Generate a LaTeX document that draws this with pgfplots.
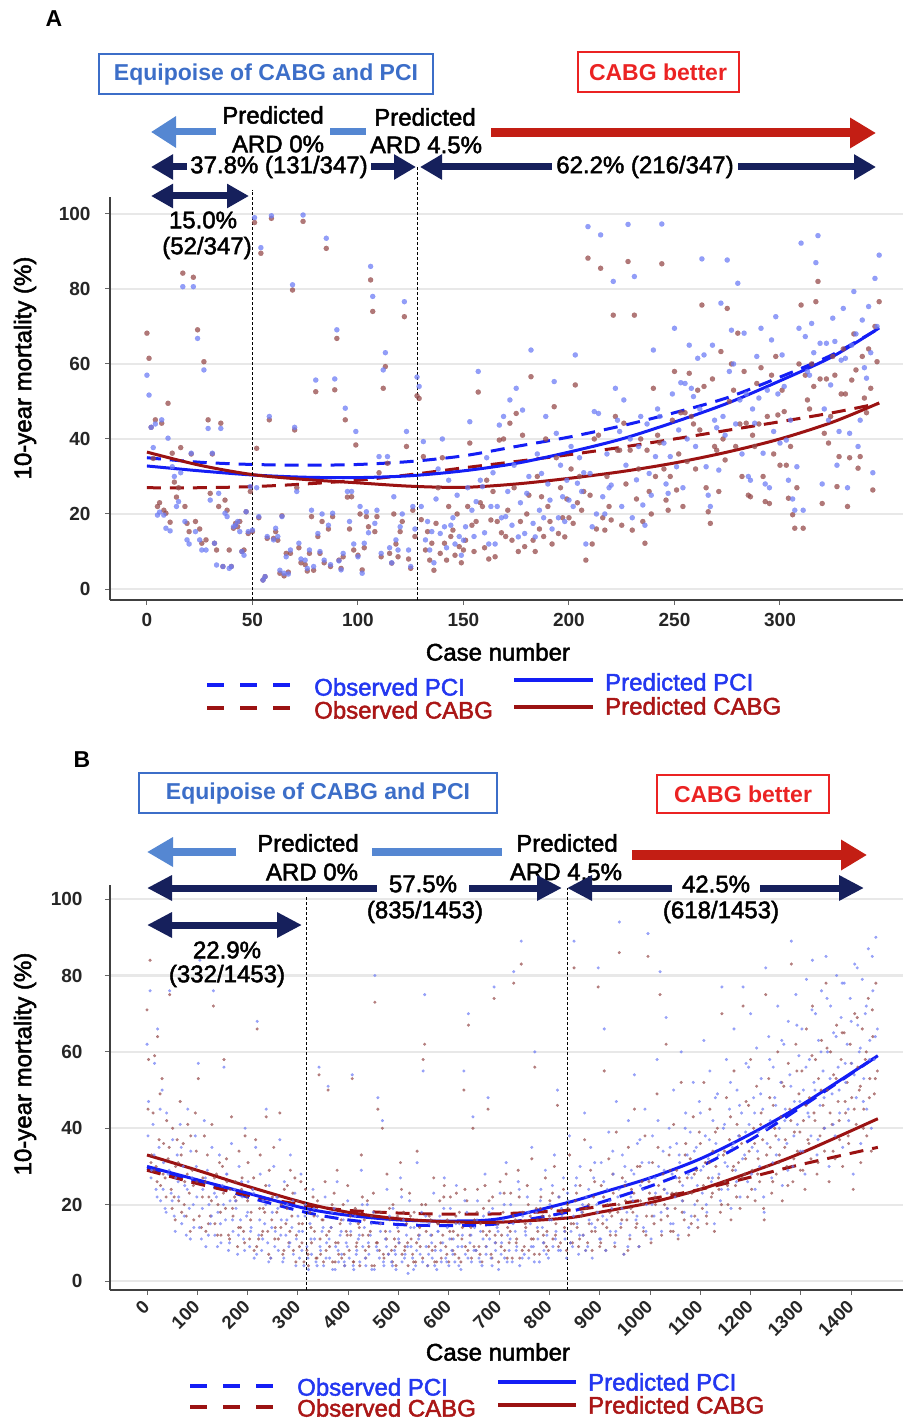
\documentclass[border=0pt]{standalone}
\usepackage{fontspec}
\setmainfont{Liberation Sans}
\newfontfamily\medfont[FakeBold=2]{Liberation Sans}
\usepackage{pgfplots}
\usepackage{pgfplotstable}
\pgfplotsset{compat=1.18}
\usetikzlibrary{arrows.meta}

\definecolor{ptblue}{RGB}{110,125,245}
\definecolor{ptred}{RGB}{150,75,75}
\definecolor{lnblue}{RGB}{20,30,245}
\definecolor{lnred}{RGB}{155,18,18}
\definecolor{navy}{RGB}{22,32,92}
\definecolor{lblue}{RGB}{85,135,210}
\definecolor{arred}{RGB}{195,30,20}
\definecolor{boxblue}{RGB}{60,110,200}
\definecolor{boxred}{RGB}{235,35,35}
\definecolor{legblue}{RGB}{35,55,240}
\definecolor{legred}{RGB}{170,22,22}

\newcommand{\fs}[1]{\fontsize{#1}{#1}\selectfont}

\pgfplotstableread{
x p c
0 57 68.2
1 51.7 61.5
2 43.1 43.1
3 37.7 34.8
4 44.0 45.1
5 19.7 22
6 20.5 23
7 45.1 44.2
8 19.7 21
9 16.2 20.2
10 40.2 49.5
11 15.5 17.8
12 32.6 36.2
13 30 28.5
14 22 24.5
15 23.3 27
16 31 37.7
17 80.6 84.2
18 18 22
19 13.1 17.5
20 12 15.3
21 36.2 36
22 80.6 83.1
23 15.3 18
24 66.8 69.1
25 13.1 16
26 10.4 12.2
27 58.4 60.6
28 10.4 13.1
29 42.8 45.1
30 23.7 25.5
31 36.2 36
32 12.2 12.2
33 6.4 10.4
34 25.5 22
35 42.8 44.2
36 6 6
37 20.2 23.7
38 19.3 21
39 5.5 10.4
40 6 6
41 16.6 16.2
42 17 17.5
43 18 16.6
44 15.3 18
45 10 10
46 9 10.4
47 20.6 20.6
48 15.3 14.8
49 27.3 26
50 15.7 15.3
51 99 97.7
52 27 37.5
53 19.3 19
54 91 89.5
55 2.4 2.4
56 3.3 3.3
57 14 13.5
58 46 45.1
59 99.5 98.8
60 13.1 13.5
61 16.2 15.3
62 14 13
63 5 4.2
64 19.3 19.5
65 4.2 3.5
66 8.6 9.5
67 4 4.5
68 10.4 9.5
69 81.1 79.7
70 43.1 42.4
71 26 27
72 12.2 11
73 8 7
74 99.7 98
75 7.7 6.5
76 5.5 4.8
77 10.4 9.5
78 21 19.3
79 6 5
80 55.7 52.6
81 14.8 14
82 10 9.5
83 20 18
84 7.7 7
85 93.5 90.8
86 17 16
87 6.5 6
88 20.2 19.3
89 56 53.1
90 69.1 66.8
91 7.5 7.7
92 5.1 5.5
93 9.5 8.6
94 48.2 45.1
95 26 24.5
96 18 16
97 26 24.6
98 12 10.4
99 42 38.4
100 8.6 9
101 22 20
102 4.2 5.1
103 12.2 11
104 20.6 19.3
105 15 16.6
106 86 82.4
107 78 74
108 17.5 15.3
109 21 19.3
110 35.3 31
111 9.5 8.6
112 58.4 53.5
113 63 59.3
114 35.3 33.5
115 11 9.5
116 7 6.9
117 24.6 20
118 13.1 12
119 10.4 8.6
120 16.6 15.3
121 20 18
122 76.6 72.6
123 42 38
124 10.4 8
125 6 5.5
126 22 21
127 16 14
128 56.5 51.5
129 54 50.8
130 22 18.5
131 39.3 35.3
132 13.1 10.4
133 18 15.3
134 10.4 7.7
135 15.3 12.2
136 7 5
137 24 17.5
138 32 27
139 14.8 9.5
140 40 35
141 16.6 12.2
142 11 7.7
143 29 22
144 17 14
145 19 15.7
146 12 9
147 25 20
148 14 11.3
149 9 7
150 13 10.4
151 16.6 13
152 27 22
153 44.6 38.9
154 21 17
155 14 10
156 23.3 18
157 58 52.5
158 29 23
159 27.3 22
160 15 11
161 35 29
162 12 8
163 22 18.4
164 31 26
165 12 8.6
166 22 18
167 43.7 39.7
168 19 15
169 46 40
170 19.3 14
171 26 21
172 50.4 44.2
173 17 13
174 33 27
175 53.5 46.8
176 13.9 10
177 23 18
178 47.7 41
179 14.8 11.3
180 25.5 20
181 30 25
182 63.7 56.6
183 17.5 13
184 13.9 10
185 36 30
186 21 16
187 30.8 24.6
188 19 14
189 46 40
190 28 22
191 23.7 18
192 16 12
193 55.3 48.6
194 41.5 35
195 19 14.8
196 33 27
197 24.6 19
198 18 13.9
199 29 24
200 23.7 19
201 38 32
202 22 17.5
203 62.4 54.4
204 28.2 23
205 35 30
206 26 21
207 31 26
208 12 7.7
209 96.6 88.2
210 30.8 25
211 16.6 12
212 47.3 40
213 20 16
214 46.8 41
215 94.4 85.5
216 24.6 19
217 20 15.7
218 36 30
219 27 22
220 27.7 18.4
221 82 73
222 53.5 46
223 45 37
224 42 37
225 22 17
226 50.4 44.2
227 33 28
228 97.2 87.3
229 40 37
230 19 15.7
231 83.3 73
232 29.1 24
233 38 32
234 46 40
235 22.4 18
236 17 12.2
237 44 37
238 30.8 26
239 25 20
240 63.7 53.5
241 35.3 30
242 48 41
243 46 39
244 97.3 86.7
245 38.9 32
246 28 23.7
247 25.5 21
248 35.3 30
249 52 45
250 69.5 58
251 32.6 26.4
252 42.4 36
253 55 47
254 27 22
255 54.8 47
256 40 34
257 65 57.5
258 53.5 46
259 51.3 44
260 38 32
261 61.5 53
262 48 42.4
263 88 75.7
264 62.4 54
265 32.6 27
266 25 20.6
267 22 17.5
268 65 56
269 45 38
270 43 37
271 31.7 26
272 76.2 63.3
273 46 40
274 41 34.4
275 87.7 74.8
276 58 50
277 69 60
278 60 53
279 44 38
280 81.5 68.2
281 50.4 44
282 36 30
283 68.2 58
284 52 44.2
285 30 25
286 29 24.6
287 48 41
288 44.2 38
289 62 54.8
290 50.9 44
291 69.5 59
292 36.2 30
293 28 23.3
294 53 46
295 27 22.8
296 66.4 57
297 42 36
298 72.6 62
299 52 46.4
300 38.9 33
301 62.4 53
302 54 47.3
303 39.7 33
304 29 24.2
305 45 38
306 24 19.8
307 21 16.2
308 32.6 27
309 69.5 60
310 92.2 75.7
311 21 16.2
312 67.3 57
313 58 50.4
314 57 48
315 70.8 60
316 63 54
317 87 76.6
318 94.2 82
319 65.5 56
320 28 22.8
321 48 41.5
322 65.5 56
323 45 38.9
324 54.4 46
325 72.2 62
326 66 57
327 33 27.3
328 42 35.3
329 61 52
330 74.8 64
331 61.5 52
332 27 22
333 41.5 35
334 65 55.7
335 79.3 68
336 68 58.4
337 38 32.2
338 45 35.3
339 71.7 62
340 59 50.9
341 56.2 47
342 75.3 64
343 63 53.5
344 31 26.4
345 82.8 70
346 70 60.6
347 89 76.6
}\dataA

\pgfplotstableread{
x p c
0 62 71
3 47 58
6 76 84
9 29 33
12 41 44
15 57 59
18 24 30
21 66 64
24 35 37
27 21 25
30 50 53
33 31 36
36 19 27
39 44 42
42 28 32
45 76 75
48 23 24
51 37 40
54 17 22
57 27 30
60 33 37
63 22 21
66 41 47
69 15 18
72 30 36
75 25 26
78 12 17
81 45 41
84 19 23
87 34 38
90 27 29
93 14 16
96 38 44
99 22 26
102 57 53
105 84 79
108 11 14
111 24 27
114 42 38
117 9 13
120 29 33
123 20 22
126 15 17
129 35 41
132 76 72
135 12 15
138 22 28
141 18 20
144 33 31
147 10 12
150 25 30
153 56 58
156 16 19
159 28 26
162 8 12
165 21 24
168 36 43
171 13 17
174 24 22
177 19 21
180 7 9
183 30 34
186 16 14
189 22 27
192 11 13
195 40 38
198 17 22
201 26 31
204 9 11
207 14 18
210 24 24
213 6 8
216 35 37
219 68 66
222 12 11
225 28 33
228 8 12
231 21 19
234 15 18
237 45 43
240 10 13
243 25 29
246 6 6
249 18 22
252 30 35
255 13 14
258 22 18
261 8 11
264 37 44
267 16 20
270 5 7
273 26 24
276 12 15
279 20 25
282 9 10
285 33 29
288 14 17
291 7 8
294 23 27
297 11 12
300 17 21
303 6 9
306 28 26
309 13 15
312 4 5
315 20 24
318 9 8
321 3 4
324 15 18
327 7 10
330 24 22
333 11 13
336 5 6
339 17 21
342 56 54
345 8 7
348 13 16
351 4 5
354 22 26
357 10 12
360 51 50
363 6 9
366 14 14
369 3 5
372 19 23
375 9 10
378 26 29
381 5 7
384 12 15
387 7 6
390 16 20
393 4 4
396 10 13
399 21 25
402 6 8
405 13 12
408 54 53
411 3 5
414 17 19
417 8 10
420 11 15
423 5 4
426 29 33
429 9 12
432 14 16
435 4 6
438 20 21
441 7 9
444 12 13
447 3 4
450 18 23
453 80 73
456 9 10
459 48 45
462 6 8
465 15 18
468 42 40
471 4 6
474 11 13
477 24 28
480 7 7
483 13 16
486 5 8
489 19 20
492 8 11
495 3 4
498 14 17
501 10 10
504 27 31
507 5 7
510 16 18
513 7 9
516 12 15
519 2 4
522 21 23
525 9 11
528 6 7
531 14 18
534 4 5
537 31 34
540 11 12
543 7 9
546 18 20
549 55 58
552 75 62
555 9 13
558 4 4
561 15 17
564 12 16
567 6 8
570 23 27
573 8 9
576 3 5
579 13 15
582 17 21
585 5 6
588 10 12
591 27 25
594 6 9
597 14 16
600 4 5
603 19 22
606 8 11
609 11 13
612 5 7
615 25 23
618 9 12
621 15 18
624 3 5
627 12 14
630 55 50
633 7 9
636 18 21
639 70 67
642 10 12
645 5 6
648 43 40
651 14 16
654 8 8
657 21 24
660 6 9
663 13 15
666 4 5
669 17 19
672 28 25
675 9 12
678 48 45
681 11 13
684 6 7
687 19 22
690 77 74
693 8 10
696 14 15
699 3 5
702 23 26
705 10 12
708 16 18
711 6 8
714 31 28
717 12 14
720 8 10
723 20 23
726 5 6
729 81 78
732 13 16
735 9 11
738 26 29
741 4 6
744 89 83
747 17 18
750 7 9
753 12 14
756 22 25
759 6 8
762 15 17
765 35 32
768 9 11
771 60 56
774 18 19
777 11 13
780 5 7
783 24 22
786 14 17
789 8 10
792 29 27
795 12 13
798 6 8
801 20 21
804 16 19
807 9 11
810 33 30
813 13 15
816 50 46
819 22 22
822 8 10
825 17 18
828 27 24
831 11 13
834 6 8
837 21 19
840 38 33
843 13 15
846 9 10
849 89 82
852 25 21
855 15 14
858 7 9
861 30 25
864 18 17
867 12 12
870 44 37
873 22 19
876 9 10
879 16 15
882 35 29
885 6 8
888 27 22
891 14 13
894 20 18
897 82 77
900 11 9
903 31 25
906 17 15
909 66 55
912 8 8
915 24 20
918 39 32
921 13 12
924 19 17
927 28 23
930 10 9
933 47 39
936 22 18
939 94 86
942 15 14
945 33 27
948 7 7
951 26 21
954 18 16
957 42 35
960 12 11
963 29 24
966 21 18
969 54 45
972 16 14
975 36 30
978 9 9
981 25 21
984 31 26
987 14 13
990 45 38
993 20 17
996 91 85
999 27 23
1002 11 10
1005 38 31
1008 17 15
1011 23 20
1014 58 49
1017 30 25
1020 81 75
1023 13 12
1026 34 28
1029 24 20
1032 69 62
1035 19 17
1038 40 33
1041 15 13
1044 28 23
1047 50 41
1050 22 19
1053 36 29
1056 12 11
1059 31 26
1062 60 52
1065 25 21
1068 18 16
1071 44 36
1074 33 27
1077 14 12
1080 39 32
1083 27 23
1086 52 43
1089 20 17
1092 35 29
1095 16 14
1098 47 39
1101 29 24
1104 23 19
1107 63 52
1110 38 31
1113 18 15
1116 32 27
1119 55 45
1122 26 22
1125 42 34
1128 15 13
1131 36 30
1134 49 40
1137 28 24
1140 21 18
1143 77 70
1146 40 33
1149 31 26
1152 58 48
1155 24 20
1158 45 37
1161 19 16
1164 35 29
1167 66 55
1170 29 25
1173 50 41
1176 38 31
1179 22 19
1182 44 36
1185 77 72
1188 33 28
1191 57 47
1194 26 22
1197 41 34
1200 70 58
1203 35 29
1206 48 40
1209 24 21
1212 61 51
1215 39 32
1218 30 26
1221 53 44
1224 45 37
1227 18 16
1230 82 75
1233 36 30
1236 64 53
1239 42 35
1242 27 23
1245 56 46
1248 48 40
1251 33 28
1254 72 60
1257 40 33
1260 52 43
1263 25 21
1266 62 51
1269 45 37
1272 36 30
1275 68 57
1278 54 45
1281 89 83
1284 30 26
1287 47 39
1290 75 62
1293 41 34
1296 59 49
1299 34 29
1302 66 55
1305 50 42
1308 28 24
1311 79 66
1314 44 37
1317 58 48
1320 38 32
1323 84 72
1326 52 44
1329 70 58
1332 33 28
1335 63 53
1338 46 38
1341 76 63
1344 55 46
1347 40 34
1350 85 78
1353 60 50
1356 30 26
1359 72 60
1362 49 41
1365 65 54
1368 38 32
1371 80 67
1374 56 47
1377 44 37
1380 69 58
1383 35 30
1386 78 65
1389 52 44
1392 62 52
1395 42 36
1398 74 62
1401 57 48
1404 28 24
1407 83 70
1410 48 41
1413 67 56
1416 60 50
1419 36 31
1422 79 66
1425 53 45
1428 70 58
1431 45 38
1434 87 74
1437 63 53
1440 40 34
1443 76 64
1446 58 49
1449 90 78
1452 66 55
}\dataB

\pgfplotstableread{
x p c
2 38 45
8 27 31
14 33 29
20 22 26
26 45 49
32 24 28
38 18 22
44 29 35
50 21 19
56 13 16
62 26 31
68 35 33
74 17 20
80 24 28
86 11 13
92 20 25
98 30 34
104 14 17
110 19 22
116 27 26
122 12 15
128 17 21
134 23 27
140 9 12
146 15 18
152 20 23
158 28 32
164 10 11
170 16 19
176 21 26
182 12 14
188 26 24
194 8 10
200 18 21
206 13 16
212 23 27
218 7 9
224 16 19
230 11 13
236 20 25
242 5 7
248 14 16
254 9 11
260 19 22
266 12 14
272 6 8
278 16 19
284 10 13
290 21 23
296 4 5
302 13 15
308 8 10
314 17 20
320 6 7
326 11 14
332 19 17
338 4 6
344 9 11
350 14 16
356 6 8
362 11 13
368 18 20
374 3 5
380 8 10
386 13 16
392 5 7
398 9 12
404 15 17
410 4 5
416 7 9
422 12 14
428 20 22
434 6 8
440 10 12
446 15 17
452 3 4
458 8 10
464 13 15
470 5 7
476 9 11
482 17 19
488 4 5
494 7 9
500 11 13
506 22 24
512 6 8
518 9 10
524 14 17
530 3 5
536 8 10
542 12 14
548 5 6
554 17 20
560 7 9
566 10 12
572 4 5
578 13 15
584 8 10
590 19 22
596 5 7
602 11 13
608 7 8
614 15 17
620 4 6
626 9 11
632 21 24
638 6 8
644 12 14
650 8 9
656 16 18
662 5 7
668 11 13
674 7 9
680 18 21
686 4 6
692 10 12
698 13 15
704 7 9
710 20 23
716 5 6
722 11 13
728 15 17
734 8 10
740 24 22
746 6 8
752 13 15
758 18 20
764 9 11
770 5 7
776 14 16
782 21 19
788 10 12
794 7 9
800 16 17
806 25 23
812 11 12
818 8 9
824 19 18
830 13 14
836 23 20
842 10 10
848 17 15
854 27 23
860 12 11
866 20 18
872 8 8
878 24 20
884 15 13
890 31 26
896 18 16
902 11 10
908 26 22
914 16 14
920 21 18
926 34 28
932 13 12
938 24 20
944 19 16
950 30 25
956 9 8
962 22 19
968 28 23
974 17 15
980 37 30
986 24 20
992 13 12
998 31 26
1004 20 17
1010 27 22
1016 42 35
1022 18 16
1028 29 24
1034 23 19
1040 35 29
1046 15 13
1052 27 23
1058 33 27
1064 21 18
1070 40 33
1076 28 23
1082 17 15
1088 34 28
1094 25 21
1100 44 36
1106 30 25
1112 20 17
1118 37 31
1124 27 23
1130 48 39
1136 33 27
1142 24 20
1148 41 34
1154 30 25
1160 52 43
1166 36 30
1172 26 22
1178 46 38
1184 32 27
1190 39 32
1196 56 46
1202 28 24
1208 44 36
1214 34 28
1220 49 41
1226 22 19
1232 40 33
1238 58 48
1244 31 26
1250 46 38
1256 37 31
1262 63 52
1268 42 35
1274 29 25
1280 51 42
1286 38 32
1292 67 55
1298 47 39
1304 34 29
1310 56 46
1316 43 36
1322 71 59
1328 50 42
1334 37 31
1340 60 50
1346 48 40
1352 74 61
1358 53 44
1364 41 34
1370 64 53
1376 50 42
1382 78 65
1388 57 47
1394 45 38
1400 68 57
1406 54 45
1412 82 69
1418 61 51
1424 47 40
1430 72 60
1436 58 48
1442 85 71
1448 64 53
}\dataBb

\pgfplotsset{
  panel/.style={
    scale only axis, width=793pt,
    axis x line*=bottom, axis y line*=left,
    axis line style={-, black!75, line width=1.3pt},
    every outer x axis line/.append style={-},
    every outer y axis line/.append style={-},
    tick align=outside, major tick length=5pt,
    tick style={black!60, line width=1pt},
    ymajorgrids, grid style={black!9, line width=2.2pt},
    ytick={0,20,...,100},
    ticklabel style={font=\fs{19}\bfseries, text=black!85},
    /pgf/number format/assume math mode=true,
    /pgf/number format/1000 sep={},
    clip=false,
  },
  obsline/.style={line width=3pt, dash pattern=on 14pt off 9pt, smooth},
  predline/.style={line width=3pt, smooth},
  dotsA/.style={only marks, mark=*, mark size=2.6pt, opacity=#1, mark options={line width=0.1pt}},
  dotsB/.style={only marks, mark=*, mark size=1.5pt, opacity=#1, mark options={line width=0.1pt}},
}

\tikzset{
  txt/.style={font=\fs{24}\medfont, inner sep=0pt},
}

\begin{document}
\begin{tikzpicture}
\path[use as bounding box] (0pt,0pt) rectangle (903pt,-1420pt);

% ================= Panel A =================
\begin{axis}[panel,
  at={(110pt,-600pt)}, anchor=south west, height=403pt,
  xmin=-17.5, xmax=358.3, ymin=-2.93, ymax=104.5,
  xtick={0,50,...,300},
  xticklabel style={yshift=-5pt},
  yticklabel style={xshift=-11pt},
]
\addplot[ptred, dotsA=0.75] table[x=x, y=c] {\dataA};
\addplot[ptblue, dotsA=0.75] table[x=x, y=p] {\dataA};
\addplot[lnblue, obsline] coordinates {(0,35) (25,33.8) (50,33.2) (75,33) (100,33.2) (125,34) (150,35.5) (175,38) (200,40.5) (225,43.5) (250,47) (275,51) (300,56.5) (325,62.5) (347,69.5)};
\addplot[lnred, obsline] coordinates {(0,27) (25,27) (50,27.3) (75,28) (100,29) (125,30.5) (150,32.3) (175,34) (200,35.8) (225,37.8) (250,40) (275,42.3) (300,44.6) (325,47) (347,49.5)};
\addplot[lnblue, predline] coordinates {(0,32.8) (25,31.5) (50,30.4) (75,29.8) (100,29.7) (125,30.2) (150,31.5) (175,33.5) (200,36.5) (225,40) (250,44.5) (275,49.5) (300,55.5) (325,62) (347,69.6)};
\addplot[lnred, predline] coordinates {(0,36.5) (25,33) (50,30.5) (75,29.2) (100,28.3) (125,27.4) (150,27.1) (175,28) (200,29.5) (225,31.3) (250,33.6) (275,36.5) (300,40) (325,44.5) (347,49.6)};
\draw[black, line width=1pt, dash pattern=on 3pt off 2pt] (axis cs:50.2,-2.93) -- (axis cs:50.2,106.4);
\draw[black, line width=1pt, dash pattern=on 3pt off 2pt] (axis cs:128.4,-2.93) -- (axis cs:128.4,112.5);
\end{axis}

\node[font=\fs{23}\bfseries] at (54pt,-18.5pt) {A};
\draw[boxblue, line width=1.6pt] (99pt,-54pt) rectangle (433pt,-94pt);
\node[font=\fs{23}\bfseries, text=boxblue] at (266pt,-75pt) {Equipoise of CABG and PCI};
\draw[boxred, line width=1.6pt] (578pt,-52pt) rectangle (739pt,-92pt);
\node[font=\fs{23}\bfseries, text=boxred] at (658pt,-72pt) {CABG better};

\draw[lblue, line width=7pt, -{Triangle[length=25pt,width=30pt]}] (216pt,-132pt) -- (151pt,-132pt);
\draw[lblue, line width=7pt] (330pt,-132pt) -- (366pt,-132pt);
\draw[arred, line width=9pt, -{Triangle[length=26pt,width=29pt]}] (491pt,-133pt) -- (876pt,-133pt);
\node[txt] at (273pt,-115pt) {Predicted};
\node[txt] at (278pt,-144pt) {ARD 0\%};
\node[txt] at (425pt,-117pt) {Predicted};
\node[txt] at (426pt,-145pt) {ARD 4.5\%};

\draw[navy, line width=7pt, {Triangle[length=22pt,width=24pt]}-{Triangle[length=22pt,width=24pt]}] (151pt,-167pt) -- (416pt,-167pt);
\node[txt, fill=white, inner xsep=3pt, inner ysep=1pt] at (279pt,-167pt) {37.8\% (131/347)};
\draw[navy, line width=7pt, {Triangle[length=22pt,width=24pt]}-{Triangle[length=22pt,width=24pt]}] (420pt,-167pt) -- (876pt,-167pt);
\node[txt, fill=white, inner xsep=4pt, inner ysep=1pt] at (645pt,-167pt) {62.2\% (216/347)};
\draw[navy, line width=7pt, {Triangle[length=22pt,width=23pt]}-{Triangle[length=22pt,width=23pt]}] (151pt,-196pt) -- (249pt,-196pt);
\node[txt] at (203pt,-220pt) {15.0\%};
\node[txt] at (207pt,-248pt) {(52/347)};

\node[txt, font=\fs{24}\medfont, rotate=90] at (25pt,-368pt) {10-year mortality (\%)};
\node[txt, font=\fs{24}\medfont] at (498pt,-652pt) {Case number};

\draw[lnblue, line width=4pt, dash pattern=on 17pt off 16pt] (207pt,-685pt) -- (290pt,-685pt);
\node[txt, font=\fs{24}\medfont, text=legblue, anchor=west] at (314pt,-687pt) {Observed PCI};
\draw[lnblue, line width=3.5pt] (514pt,-680pt) -- (593pt,-680pt);
\node[txt, font=\fs{24}\medfont, text=legblue, anchor=west] at (605pt,-682pt) {Predicted PCI};
\draw[lnred, line width=4pt, dash pattern=on 17pt off 16pt] (207pt,-708pt) -- (290pt,-708pt);
\node[txt, font=\fs{24}\medfont, text=legred, anchor=west] at (314pt,-710pt) {Observed CABG};
\draw[lnred, line width=3.5pt] (514pt,-707pt) -- (593pt,-707pt);
\node[txt, font=\fs{24}\medfont, text=legred, anchor=west] at (605pt,-706pt) {Predicted CABG};

% ================= Panel B =================
\begin{axis}[panel,
  at={(110pt,-1290pt)}, anchor=south west, height=405pt,
  xmin=-73.6, xmax=1503, ymin=-2.36, ymax=103.7,
  xtick={0,100,...,1400},
  xticklabel style={font=\fs{18.5}\bfseries, anchor=east, inner sep=1pt, yshift=-8pt, rotate=45},
  yticklabel style={xshift=-19pt},
]
\addplot[ptred, dotsB=0.7] table[x=x, y=c] {\dataB};
\addplot[ptred, dotsB=0.7] table[x=x, y=c] {\dataBb};
\addplot[ptblue, dotsB=0.7] table[x=x, y=p] {\dataB};
\addplot[ptblue, dotsB=0.7] table[x=x, y=p] {\dataBb};
\addplot[lnblue, obsline] coordinates {(0,29.5) (100,26) (200,22) (315,18) (400,16) (500,14.8) (600,14.5) (700,15) (835,18) (900,20.5) (1000,24.8) (1100,30) (1200,37) (1300,45.5) (1453,59)};
\addplot[lnred, obsline] coordinates {(0,29) (100,25.5) (200,22.5) (315,19.8) (400,18.5) (500,17.8) (600,17.5) (700,17.6) (835,18.5) (900,19.5) (1000,21.5) (1100,24) (1200,27.2) (1300,30.5) (1453,35)};
\addplot[lnblue, predline] coordinates {(0,30) (100,26.5) (200,23) (315,19) (400,17.2) (500,16) (600,15.7) (700,16.3) (835,20.5) (900,23) (1000,27) (1100,32) (1200,38.5) (1300,46) (1453,59)};
\addplot[lnred, predline] coordinates {(0,33) (100,29) (200,24.8) (315,20.4) (400,18) (500,16.3) (600,15.5) (700,15.4) (835,16.5) (900,18) (1000,20.5) (1100,24) (1200,28.5) (1300,33.5) (1453,42.5)};
\draw[black, line width=1pt, dash pattern=on 3pt off 2pt] (axis cs:318,-2.36) -- (axis cs:318,100.5);
\draw[black, line width=1pt, dash pattern=on 3pt off 2pt] (axis cs:835,-2.36) -- (axis cs:835,102.9);
\end{axis}

\node[font=\fs{23}\bfseries] at (82pt,-760pt) {B};
\draw[boxblue, line width=1.6pt] (139pt,-773pt) rectangle (497pt,-813pt);
\node[font=\fs{23}\bfseries, text=boxblue] at (318pt,-794pt) {Equipoise of CABG and PCI};
\draw[boxred, line width=1.6pt] (657pt,-775pt) rectangle (829pt,-813pt);
\node[font=\fs{23}\bfseries, text=boxred] at (743pt,-794pt) {CABG better};

\draw[lblue, line width=8pt, -{Triangle[length=26pt,width=28pt]}] (236pt,-852pt) -- (147pt,-852pt);
\draw[lblue, line width=8pt] (372pt,-852pt) -- (502pt,-852pt);
\draw[arred, line width=10pt, -{Triangle[length=26pt,width=29pt]}] (632pt,-855pt) -- (867pt,-855pt);
\node[txt] at (308pt,-843pt) {Predicted};
\node[txt] at (312pt,-872pt) {ARD 0\%};
\node[txt] at (567pt,-843pt) {Predicted};
\node[txt] at (566pt,-872pt) {ARD 4.5\%};

\draw[navy, line width=7pt, {Triangle[length=25pt,width=24pt]}-{Triangle[length=25pt,width=24pt]}] (147pt,-888pt) -- (562pt,-888pt);
\node[txt, fill=white, inner xsep=12pt, inner ysep=1pt] at (423pt,-884pt) {57.5\%};
\node[txt] at (425pt,-912pt) {(835/1453)};
\draw[navy, line width=7pt, {Triangle[length=25pt,width=24pt]}-{Triangle[length=25pt,width=24pt]}] (567pt,-888pt) -- (864pt,-888pt);
\node[txt, fill=white, inner xsep=10pt, inner ysep=1pt] at (716pt,-884pt) {42.5\%};
\node[txt] at (721pt,-912pt) {(618/1453)};
\draw[navy, line width=7pt, {Triangle[length=25pt,width=24pt]}-{Triangle[length=25pt,width=24pt]}] (147pt,-925pt) -- (302pt,-925pt);
\node[txt] at (227pt,-950pt) {22.9\%};
\node[txt] at (227pt,-976pt) {(332/1453)};

\node[txt, font=\fs{24}\medfont, rotate=90] at (25pt,-1064pt) {10-year mortality (\%)};
\node[txt, font=\fs{24}\medfont] at (498pt,-1352pt) {Case number};

\draw[lnblue, line width=4pt, dash pattern=on 17pt off 16pt] (190pt,-1386pt) -- (273pt,-1386pt);
\node[txt, font=\fs{24}\medfont, text=legblue, anchor=west] at (297pt,-1387pt) {Observed PCI};
\draw[lnblue, line width=3.5pt] (498pt,-1382pt) -- (576pt,-1382pt);
\node[txt, font=\fs{24}\medfont, text=legblue, anchor=west] at (588pt,-1382pt) {Predicted PCI};
\draw[lnred, line width=4pt, dash pattern=on 17pt off 16pt] (190pt,-1407pt) -- (273pt,-1407pt);
\node[txt, font=\fs{24}\medfont, text=legred, anchor=west] at (297pt,-1408pt) {Observed CABG};
\draw[lnred, line width=3.5pt] (498pt,-1405pt) -- (576pt,-1405pt);
\node[txt, font=\fs{24}\medfont, text=legred, anchor=west] at (588pt,-1405pt) {Predicted CABG};

\end{tikzpicture}
\end{document}
